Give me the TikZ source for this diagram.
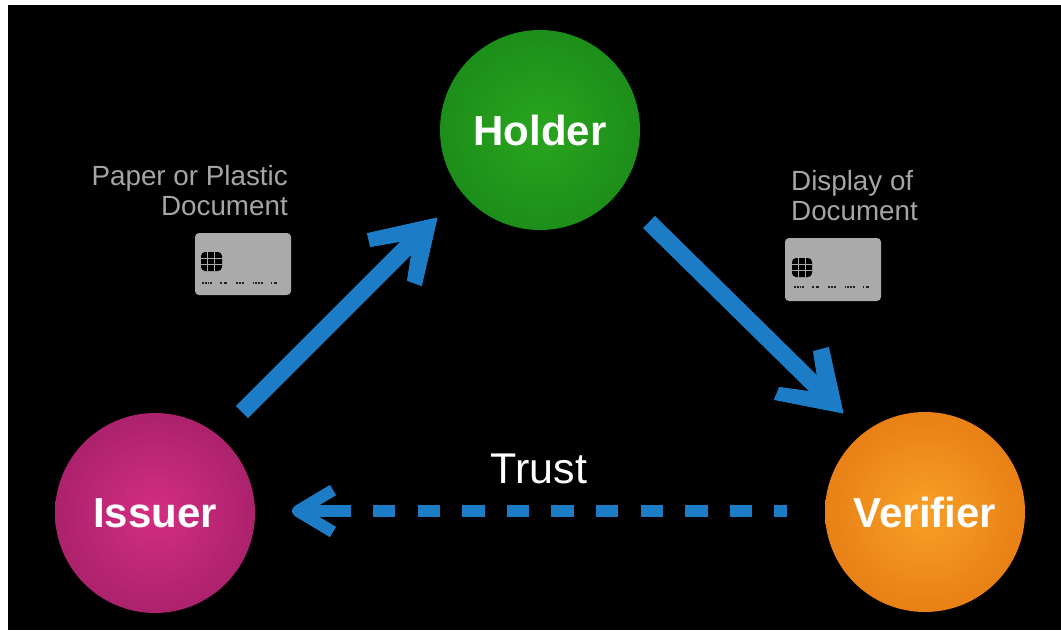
\documentclass[tikz,border=0pt]{standalone}
\usepackage{fontspec}
\setmainfont{Liberation Sans}
\definecolor{arrowblue}{RGB}{28,124,198}
\definecolor{cardgray}{RGB}{170,170,170}
\definecolor{labelgray}{RGB}{165,165,165}
\tikzset{
  x=1pt,y=-1pt,
  role/.style={circle,minimum size=200pt,inner sep=0pt,text=white,font=\fontsize{42}{42}\selectfont\bfseries},
  flow/.style={draw=arrowblue,line width=17pt},
  headfill/.style={fill=arrowblue,draw=arrowblue,line width=1pt,line join=round},
  trustline/.style={draw=arrowblue,line width=12pt},
  caption/.style={text=labelgray,font=\fontsize{27.8}{30}\selectfont,inner sep=0pt},
  cardbody/.style={fill=cardgray,rounded corners=4pt},
  chip/.style={fill=black,rounded corners=4pt},
  chipline/.style={draw=cardgray,line width=.9pt},
  digits/.style={draw=black!80!cardgray,line width=1.5pt,dash pattern=on 1.5pt off 1pt on 2pt off 1pt on 1.5pt off 1pt on 2pt off 8pt on 1.5pt off 2pt on 3pt off 9pt on 2pt off 1pt on 2pt off 1pt on 2pt off 9pt},
}
\begin{document}
\begin{tikzpicture}
\useasboundingbox (0,0) rectangle (1061,630);
\fill[white] (0,0) rectangle (1061,630);
\fill[black] (8,5) rectangle (1061,630);
\shade[inner color={rgb,255:red,42;green,165;blue,30},outer color={rgb,255:red,28;green,142;blue,26}] (540,130) circle (100);
\node[role] (holder) at (540,130) {Holder};
\shade[inner color={rgb,255:red,212;green,46;blue,130},outer color={rgb,255:red,172;green,34;blue,108}] (155,513) circle (100);
\node[role] (issuer) at (155,513) {Issuer};
\shade[inner color={rgb,255:red,248;green,160;blue,38},outer color={rgb,255:red,232;green,128;blue,22}] (925,512) circle (100);
\node[role] (verifier) at (925,512) {Verifier};
\coordinate (a1s) at (242,412);
\coordinate (a1n) at (418,236);
\coordinate (a1t) at (437,218);
\draw[flow] (a1s) -- (a1n);
\filldraw[headfill] (a1t) -- (367.5,233.5) -- (370.5,246.5) -- (414,239) -- (407.5,280.5) -- (421.5,285.5) -- cycle;
\coordinate (a2s) at (649,222);
\coordinate (a2n) at (825,395);
\coordinate (a2t) at (843,413);
\draw[flow] (a2s) -- (a2n);
\filldraw[headfill] (a2t) -- (774.5,399.5) -- (779.5,387.5) -- (820,393) -- (813.5,351.5) -- (828.5,347.5) -- cycle;
\coordinate (ts) at (787,511);
\coordinate (te) at (373,511);
\coordinate (tn) at (351,511);
\coordinate (tt) at (298,511);
\draw[trustline,dash pattern=on 22.3pt off 22.3pt] (te) -- (ts);
\draw[trustline] (tn) -- (tt);
\draw[arrowblue,line width=12pt,line join=round] (333,490) -- (tt) -- (333,532);
\node[text=white,font=\fontsize{43}{43}\selectfont,inner sep=0pt] (trust) at (539,469) {Trust};
\node[caption,align=right,anchor=east] (paper) at (288,191) {Paper or Plastic\\Document};
\node[caption,align=left,anchor=west] (display) at (791,196) {Display of\\Document};
\fill[cardbody] (195,233) rectangle (291,295);
\fill[chip] (201,252) rectangle (222,271);
\draw[chipline] (201,258) -- (222,258) (201,264) -- (222,264) (207.5,252) -- (207.5,271) (214.5,252) -- (214.5,271);
\draw[digits] (202,283) -- (285,283);
\fill[cardbody] (785,238) rectangle (881,301);
\fill[chip] (792,258) rectangle (812,277);
\draw[chipline] (792,264) -- (812,264) (792,270) -- (812,270) (798.5,258) -- (798.5,277) (805.5,258) -- (805.5,277);
\draw[digits] (794,287) -- (876,287);
\end{tikzpicture}
\end{document}
